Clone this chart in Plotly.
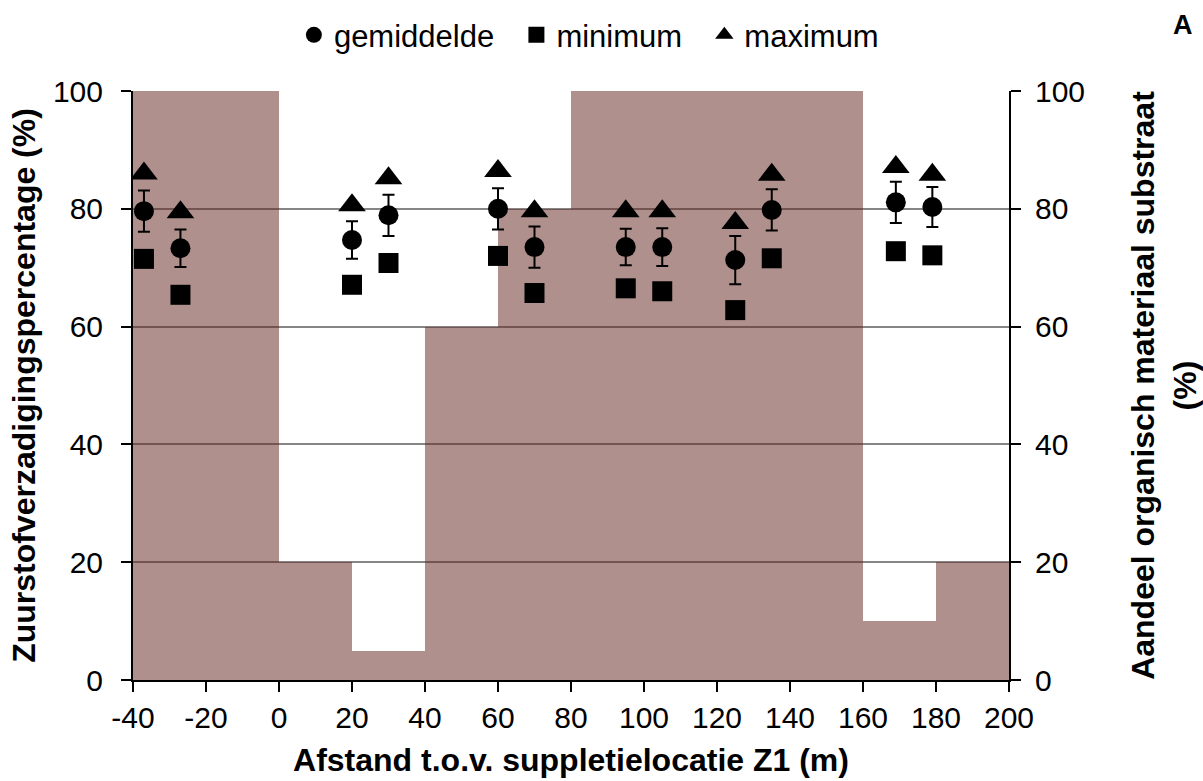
import plotly.graph_objects as go

# Background: share of organic material (right axis), per 20 m segment
seg_center = [-30, -10, 10, 30, 50, 70, 90, 110, 130, 150, 170, 190]
organic_share = [100, 100, 20, 5, 60, 80, 100, 100, 100, 100, 10, 20]

# Oxygen saturation (left axis)
distance = [-37, -27, 20, 30, 60, 70, 95, 105, 125, 135, 169, 179]
gemiddelde = [79.6, 73.3, 74.7, 78.9, 80.0, 73.5, 73.5, 73.5, 71.3, 79.8, 81.1, 80.3]
fout = [3.5, 3.2, 3.2, 3.5, 3.5, 3.5, 3.1, 3.2, 4.1, 3.5, 3.5, 3.4]
minimum = [71.5, 65.4, 67.1, 70.8, 72.0, 65.7, 66.5, 66.0, 62.8, 71.6, 72.8, 72.1]
maximum = [86.0, 79.4, 80.6, 85.2, 86.4, 79.6, 79.6, 79.6, 77.6, 85.8, 87.1, 85.8]

x_tickvals = [-40, -20, 0, 20, 40, 60, 80, 100, 120, 140, 160, 180, 200]
x_ticktext = ["-40", "-20", "0", "20", "40", "60", "80", "100", "120", "140", "160", "180", "200"]

FONT = "Liberation Sans, Arial, sans-serif"
PAD = "\u00a0\u00a0"

fig = go.Figure()

fig.add_trace(go.Bar(
    x=seg_center, y=organic_share, width=20,
    marker=dict(color="rgba(97,33,27,0.5)", line=dict(width=0)),
    showlegend=False, yaxis="y", hoverinfo="skip",
))

fig.add_trace(go.Scatter(
    x=distance, y=gemiddelde, mode="markers", name="gemiddelde" + PAD, yaxis="y2",
    marker=dict(symbol="circle", size=20, color="black"),
    error_y=dict(type="data", array=fout, color="black", thickness=2, width=6),
))
fig.add_trace(go.Scatter(
    x=distance, y=minimum, mode="markers", name="minimum" + PAD, yaxis="y2",
    marker=dict(symbol="square", size=20, color="black"),
))
fig.add_trace(go.Scatter(
    x=distance, y=maximum, mode="markers", name="maximum" + PAD, yaxis="y2",
    marker=dict(symbol="triangle-up", size=24, color="black"),
))

tickfont = dict(family=FONT, size=30, color="black")
titlefont = dict(family=FONT, size=32, color="black", weight="bold")

fig.update_layout(
    width=1203, height=781,
    margin=dict(l=133, r=194, t=91, b=101, autoexpand=False),
    paper_bgcolor="white", plot_bgcolor="white",
    bargap=0,
    font=dict(family=FONT, color="black"),
    xaxis=dict(
        range=[-40, 200], tickvals=x_tickvals, ticktext=x_ticktext,
        showgrid=False, zeroline=False,
        showline=True, linecolor="black", linewidth=2,
        ticks="outside", ticklen=10, tickwidth=2, tickcolor="black",
        tickfont=tickfont,
        title=dict(text="Afstand t.o.v. suppletielocatie Z1 (m)", font=titlefont, standoff=16),
    ),
    yaxis=dict(
        range=[0, 100], dtick=20, side="right",
        showgrid=True, gridcolor="#868686", gridwidth=1.5, zeroline=False,
        showline=True, linecolor="black", linewidth=2,
        ticks="outside", ticklen=10, tickwidth=2, tickcolor="black",
        tickfont=tickfont, ticklabelstandoff=8,
        title=dict(text="Aandeel organisch materiaal substraat<br>(%)", font=titlefont, standoff=50),
    ),
    yaxis2=dict(
        range=[0, 100], dtick=20, side="left", overlaying="y",
        showgrid=False, zeroline=False,
        showline=True, linecolor="black", linewidth=2,
        ticks="outside", ticklen=10, tickwidth=2, tickcolor="black",
        tickfont=tickfont, ticklabelstandoff=12,
        title=dict(text="Zuurstofverzadigingspercentage (%)", font=titlefont, standoff=8),
    ),
    legend=dict(
        orientation="h", xref="container", yref="container",
        x=0.497, xanchor="center", y=0.955, yanchor="middle",
        font=dict(family=FONT, size=31, color="black"),
        bgcolor="rgba(0,0,0,0)", itemsizing="trace",
    ),
    annotations=[dict(
        text="<b>A</b>", xref="paper", yref="paper", x=1.1986, y=1.112,
        xanchor="center", yanchor="middle",
        showarrow=False, font=dict(family=FONT, size=27, color="black"),
    )],
)

fig.write_html("out.html")
